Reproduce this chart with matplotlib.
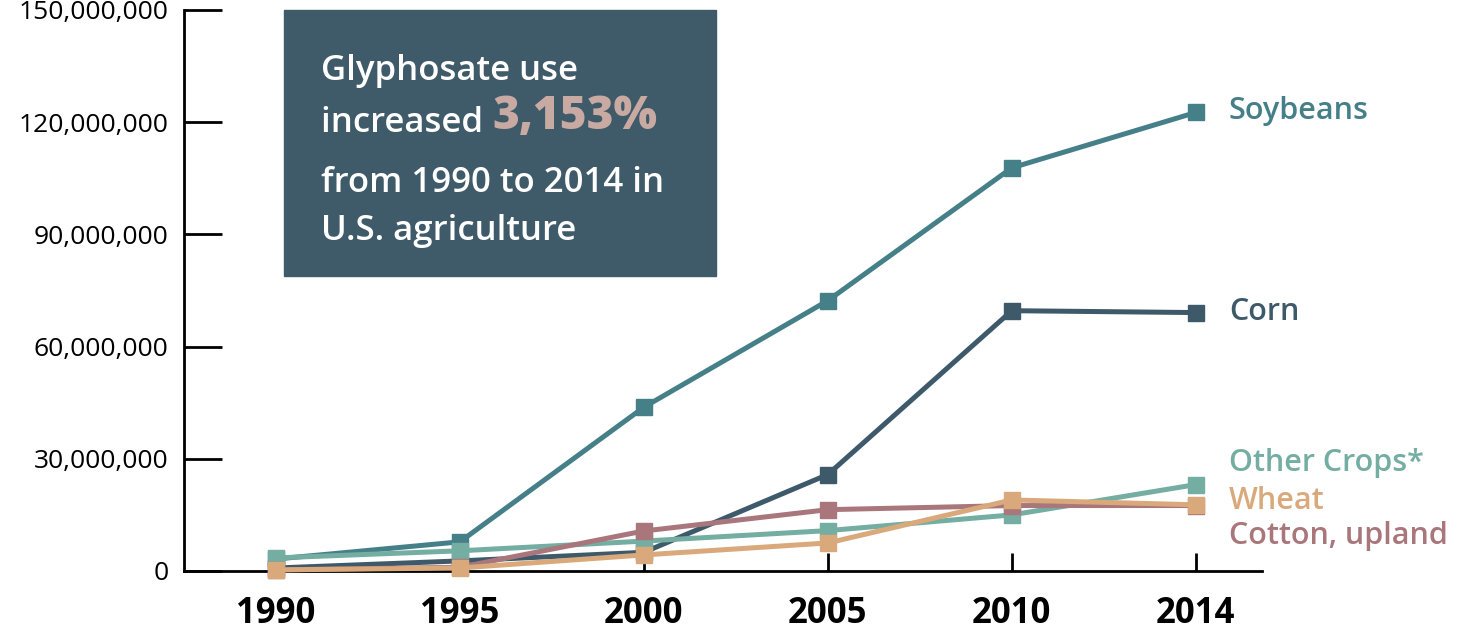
import numpy as np
import matplotlib
matplotlib.use("Agg")
import matplotlib.pyplot as plt
from matplotlib.patches import Rectangle
from matplotlib.text import Annotation
from matplotlib.ticker import FuncFormatter

# -------------------------------------------------------
# DATA (glyphosate use, pounds)
# -------------------------------------------------------
years = ["1990", "1995", "2000", "2005", "2010", "2014"]
soybeans = [3.2e6, 7.8e6, 43.8e6, 72.3e6, 107.8e6, 122.6e6]
corn = [0.8e6, 2.7e6, 5.0e6, 25.8e6, 69.6e6, 69.1e6]
other_crops = [3.5e6, 5.4e6, 8.0e6, 10.8e6, 15.0e6, 23.1e6]
cotton = [0.3e6, 1.0e6, 10.7e6, 16.4e6, 17.5e6, 17.5e6]
wheat = [0.3e6, 0.8e6, 4.3e6, 7.5e6, 19.0e6, 17.7e6]

series_names = ["Soybeans", "Corn", "Other Crops*", "Cotton, upland", "Wheat"]
series_vals = [soybeans, corn, other_crops, cotton, wheat]
series_cols = ["#457f88", "#3e5a6a", "#74ada1", "#a9767b", "#d9a97b"]
# where the end labels sit (value units)
label_y = [123.0e6, 69.3e6, 28.8e6, 9.4e6, 18.8e6]

FONT = "Open Sans"
plt.rcParams["font.family"] = [FONT, "DejaVu Sans"]

fig = plt.figure(figsize=(14.76, 6.31), dpi=100)
ax = fig.add_axes([184 / 1476, 1 - 571 / 631, (1262 - 184) / 1476, (571 - 10) / 631])

x = np.arange(len(years))
for name, vals, col in zip(series_names, series_vals, series_cols):
    ax.plot(x, vals, color=col, lw=3.6, marker="s", ms=12, clip_on=False, zorder=3)

# labels at right end
for name, ly, col in zip(series_names, label_y, series_cols):
    ax.text(5.18, ly, name, color=col, fontsize=22, fontweight="semibold",
            va="center", ha="left")

ax.set_xlim(-0.5, 5.36)
ax.set_ylim(0, 150e6)
ax.set_xticks(x)
ax.set_xticklabels(years, fontsize=25, fontweight="bold")
ax.set_yticks(np.arange(0, 150e6 + 1, 30e6))
ax.yaxis.set_major_formatter(FuncFormatter(lambda v, p: f"{int(v):,}"))
for lab in ax.get_yticklabels():
    lab.set_fontsize(19)

ax.tick_params(axis="y", direction="in", length=27, width=2, pad=11)
ax.tick_params(axis="x", direction="in", length=13, width=2, pad=18)
for s in ["top", "right"]:
    ax.spines[s].set_visible(False)
for s in ["left", "bottom"]:
    ax.spines[s].set_linewidth(2)

# callout box
box = Rectangle((284 / 1476, 1 - 276 / 631), (716 - 284) / 1476, (276 - 10) / 631,
                transform=fig.transFigure, color="#3f5a69", zorder=5)
fig.patches.append(box)
tx = 321 / 1476
kw = dict(transform=fig.transFigure, color="white", fontsize=25,
          fontweight="semibold", va="baseline", ha="left", zorder=6)
fig.text(tx, 1 - 80 / 631, "Glyphosate use", **kw)
t1 = fig.text(tx, 1 - 132 / 631, "increased ", **kw)
fig.text(tx, 1 - 192 / 631, "from 1990 to 2014 in", **kw)
fig.text(tx, 1 - 240 / 631, "U.S. agriculture", **kw)
big = Annotation("3,153%", xy=(1, 0), xycoords=t1, va="bottom", ha="left",
                 color="#c8aaa3", fontsize=33, fontweight="heavy",
                 annotation_clip=False)
big.set_zorder(7)
fig.add_artist(big)

fig.savefig("out.png", dpi=100)
